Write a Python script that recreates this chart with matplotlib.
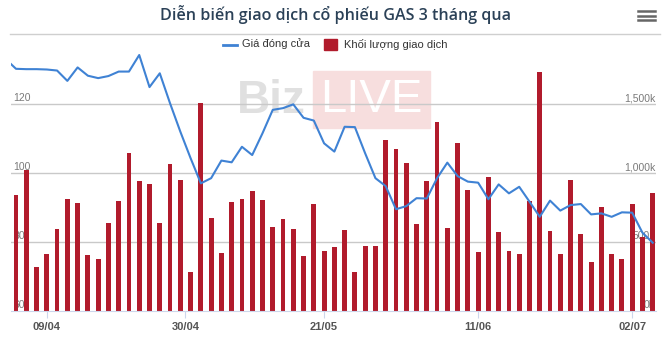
import matplotlib
matplotlib.use('Agg')
import matplotlib.pyplot as plt
import matplotlib.transforms as mtransforms
from matplotlib.patches import Rectangle
from matplotlib.lines import Line2D

TITLE = 'Diễn biến giao dịch cổ phiếu GAS 3 tháng qua'
LABEL_PRICE = 'Giá đóng cửa'
LABEL_VOL = 'Khối lượng giao dịch'

# daily closes (thousand VND), one point before the window is clipped at the left edge
PRICE_BEFORE = 133.0
PRICE = [130.2, 130.1, 130.1, 130.0, 129.7, 126.7, 130.6, 128.2, 127.5, 128.1,
         129.4, 129.4, 134.2, 124.9, 128.9, 120.2, 112.0, 104.3, 97.0, 98.5,
         103.6, 103.1, 107.6, 105.2, 111.5, 118.3, 118.8, 119.9, 116.0, 115.2,
         108.6, 106.2, 113.4, 113.3, 105.7, 98.5, 96.2, 89.5, 90.4, 92.7,
         92.6, 98.5, 103.0, 99.1, 97.5, 97.2, 92.4, 96.7, 94.1, 96.0,
         91.7, 87.3, 92.0, 89.1, 90.7, 91.0, 88.0, 88.3, 87.3, 88.6,
         88.5, 82.7, 79.8]
# daily volume (thousand shares)
VOLUME = [840, 1022, 317, 411, 592, 814, 785, 403, 374, 640,
          799, 1143, 942, 922, 635, 1065, 949, 280, 1505, 676,
          418, 792, 814, 870, 804, 611, 669, 596, 396, 778,
          432, 461, 589, 280, 473, 473, 1239, 1174, 1072, 628,
          942, 1370, 604, 1215, 877, 425, 971, 575, 432, 415,
          799, 1734, 582, 415, 949, 556, 353, 756, 415, 374,
          778, 536, 857]
TICK_POS = [3, 16.5, 30, 45, 60]
TICK_LABELS = ['09/04', '30/04', '21/05', '11/06', '02/07']
PRICE_TICKS = [60, 80, 100, 120]
VOL_TICKS = [0, 500, 1000, 1500]

BLUE, RED, GRID, AXIS, TXT = '#3f82d4', '#b11b2c', '#c9c9c9', '#ccd6eb', '#7a7a7a'
W, H = 670, 338


def fx(px):
    return px / W


def fy(py):
    return 1 - py / H


fig = plt.figure(figsize=(W / 100, H / 100), dpi=100)
ax = fig.add_axes([fx(11), fy(311), (656 - 11) / W, (311 - 52) / H])
ax2 = ax.twinx()
ax2.patch.set_visible(False)

x = list(range(len(VOLUME)))
ax.bar(x, VOLUME, width=0.47, color=RED, zorder=2)
ax2.plot([-1] + x, [PRICE_BEFORE] + PRICE, color=BLUE, lw=1.5, zorder=3)

ax.set_xlim(-0.487, 62.32)
ax.set_ylim(0, 259 * 500 / 69)
ax2.set_ylim(60, 60 + 259 * 20 / 69)

for v in VOL_TICKS[1:]:
    ax.axhline(v, color=GRID, lw=1, zorder=0.8)
for a in (ax, ax2):
    for s in ('top', 'right', 'left'):
        a.spines[s].set_visible(False)
    a.set_yticks([])
ax2.spines['bottom'].set_visible(False)
ax.spines['bottom'].set_color(AXIS)
ax.set_xticks(TICK_POS)
ax.set_xticklabels(TICK_LABELS)
ax.tick_params(axis='x', length=5, color=AXIS, pad=3, labelsize=8, labelcolor='#555555')
for t in ax.get_xticklabels():
    t.set_fontweight('bold')
    t.set_family('Liberation Sans')

# axis labels drawn inside the plot, behind the bars
left_tr = mtransforms.blended_transform_factory(fig.transFigure, ax2.transData)
right_tr = mtransforms.blended_transform_factory(fig.transFigure, ax.transData)
for v in PRICE_TICKS:
    ax.text(fx(13), v + 6 * 20 / 69, '%d' % v, transform=left_tr, ha='left', va='center',
            fontsize=7.5, color=TXT, family='Liberation Sans', zorder=1)
for v in VOL_TICKS:
    ax.text(fx(655), v + 6 * 500 / 69, '{:,}k'.format(v), transform=right_tr, ha='right',
            va='center', fontsize=7.5, color=TXT, family='Liberation Sans', zorder=1)

# watermark
ax.add_artist(Rectangle((fx(313), fy(128)), (430 - 313) / W, (128 - 71) / H,
                        transform=fig.transFigure, color='#f7dede', zorder=0.5, clip_on=False))
ax.text(fx(237), fy(101), 'Biz', transform=fig.transFigure, ha='left', va='center',
        fontsize=33, fontweight='bold', color='#e0e0e0', family='Liberation Sans', zorder=0.6)
ax.text(fx(371), fy(100), 'LIVE', transform=fig.transFigure, ha='center', va='center',
        fontsize=34, color='white', family='Liberation Sans', zorder=0.6)

# title, rule and menu icon
fig.text(fx(335), fy(15), TITLE, ha='center', va='center', fontsize=11.6,
         color='#2b4157', family='Open Sans', fontweight='semibold')
fig.add_artist(Line2D([fx(10), fx(660)], [fy(33.5), fy(33.5)], color='#cfcfcf', lw=1))
for yy in (11, 15.7, 20.4):
    fig.add_artist(Line2D([fx(638), fx(655)], [fy(yy), fy(yy)], color='#666666', lw=1.8))

# legend
fig.add_artist(Line2D([fx(222.7), fx(237.3)], [fy(44.5), fy(44.5)], color=BLUE, lw=2))
fig.text(fx(242), fy(44), LABEL_PRICE, ha='left', va='center', fontsize=8,
         color='#333333', family='Liberation Sans')
fig.add_artist(Rectangle((fx(324), fy(50)), 13 / W, 11 / H, transform=fig.transFigure,
                         color=RED))
fig.text(fx(344), fy(44), LABEL_VOL, ha='left', va='center', fontsize=8,
         color='#333333', family='Liberation Sans')

fig.savefig('out.png', dpi=100, facecolor='white')
